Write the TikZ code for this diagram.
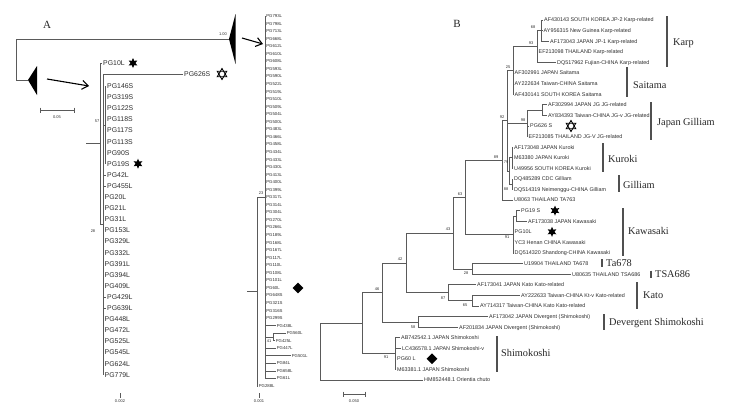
\documentclass[tikz,border=0pt]{standalone}
\usepackage{fontspec}
\setmainfont{Liberation Serif}
\newfontfamily\lsans{Liberation Sans}
\usetikzlibrary{shapes.geometric,arrows.meta}
\definecolor{txt}{HTML}{2E2E2E}
\definecolor{ln}{HTML}{5A5A5A}
\definecolor{cbarc}{HTML}{505050}
\begin{document}
\begin{tikzpicture}[x=1pt,y=-1pt,
  br/.style={draw=ln, line width=0.6pt},
  bleaf/.style={anchor=west, inner xsep=1pt, inner ysep=0pt, font=\lsans\fontsize{5.4}{6}\selectfont, text=txt, text height=3.9pt, text depth=0pt},
  aleaf/.style={anchor=west, inner xsep=1pt, inner ysep=0pt, font=\lsans\fontsize{6.9}{8}\selectfont, text=txt, text height=5pt, text depth=0pt},
  mleaf/.style={anchor=west, inner xsep=0.6pt, inner ysep=0pt, font=\lsans\fontsize{4.3}{5}\selectfont, text=txt, text height=3.1pt, text depth=0pt},
  bs/.style={inner sep=0pt, font=\lsans\fontsize{4}{4.5}\selectfont, text=txt},
  clade/.style={anchor=west, inner sep=0pt, font=\fontsize{10.3}{12}\selectfont, text=black!85, text height=7pt, text depth=0pt},
  cbar/.style={draw=cbarc, line width=1.6pt},
  star6/.style={star, star points=6, star point ratio=2, fill=black, minimum size=10pt, inner sep=0pt},
  tri/.style={regular polygon, regular polygon sides=3, draw=black, line width=0.9pt, minimum size=11pt, inner sep=0pt},
  dmd/.style={diamond, fill=black, minimum width=11pt, minimum height=11pt, inner sep=0pt},
  bigarrow/.style={draw=black, line width=1.1pt, -{Straight Barb[length=6pt,width=9pt]}},
  panel/.style={inner sep=0pt, font=\fontsize{11}{12}\selectfont, text=black!85},
]
\useasboundingbox[fill=white] (0,0) rectangle (734,408);

% ---------------- Panel A ----------------
\node[panel] (lblA) at (47,25) {A};
\node[panel] (lblB) at (457,24) {B};

\coordinate (aR) at (16,59.5);
\coordinate (aT) at (229,39);
\coordinate (aL) at (28,80);
\draw[br] (aR) |- (aT);
\draw[br] (aR) |- (aL);
\fill[black] (aT) -- (235.5,14) -- (235.5,64) -- cycle;
\fill[black] (aL) -- (37,66) -- (37,95) -- cycle;
\node[bs] (t100) at (223,34) {1.00};

\coordinate (p1) at (47,79); \coordinate (p2) at (89,86);
\draw[bigarrow] (p1) -- (p2);
\coordinate (q1) at (242,38); \coordinate (q2) at (263,44);
\draw[bigarrow] (q1) -- (q2);

% scale 0.05
\coordinate (s1) at (40,110); \coordinate (s2) at (74,110);
\draw[br] (s1) -- (s2);
\draw[br] (40,107.5) -- (40,112.5);
\draw[br] (74,107.5) -- (74,112.5);
\node[bs] (s005) at (57,117) {0.05};

% expanded subtree
\coordinate (aS) at (86,143.65);
\coordinate (aN1) at (100,143.65);
\coordinate (aX) at (103,224.3);
\coordinate (a57) at (105,124.85);
\draw[br] (aS) -- (aN1);
\draw[br] (aN1) |- (aX);
\draw[br] (aX) |- (a57);
\node[aleaf] (a10) at (102,63) {PG10L};
\draw[br] (aN1) |- (a10.west);
\node[aleaf] (a626) at (183,74) {PG626S};
\draw[br] (aX) |- (a626.west);
\foreach \i/\p/\bx/\lab in {0/a57/106/PG146S,1/a57/106/PG319S,2/a57/106/PG122S,3/a57/106/PG118S,4/a57/106/PG117S,5/a57/106/PG113S,6/a57/106/PG90S,7/a57/106/PG19S,8/aX/106/PG42L,9/aX/106/PG455L,10/aX/103.5/PG20L,11/aX/103.5/PG21L,12/aX/103.5/PG31L,13/aX/103.5/PG153L,14/aX/103.5/PG329L,15/aX/103.5/PG332L,16/aX/103.5/PG391L,17/aX/103.5/PG394L,18/aX/103.5/PG409L,19/aX/106/PG429L,20/aX/106/PG639L,21/aX/103.5/PG448L,22/aX/103.5/PG472L,23/aX/103.5/PG525L,24/aX/103.5/PG545L,25/aX/103.5/PG624L,26/aX/103.5/PG779L}{
  \pgfmathsetmacro\yy{86+\i*11.1}
  \node[aleaf] (al\i) at (\bx,\yy) {\lab};
  \draw[br] (\p) |- (al\i.west);
}
\node[bs] (b57) at (97,121) {57};
\node[bs] (b28a) at (93,231) {28};
\node[star6] (stA1) at (133,63) {};
\node[star6] (stA2) at (138,163.7) {};
\node[tri] (dvA1) at (222,74) {};
\node[tri, shape border rotate=180] (dvA2) at (222,74) {};
\draw[br] (120,393) -- (120,397.5);
\node[bs] (s0002) at (120,401) {0.002};

% middle column
\coordinate (mS) at (247,291.6);
\coordinate (mA) at (257,291.6);
\coordinate (mB) at (265,197.2);
\coordinate (mC) at (273,336.9);
\draw[br] (mS) -- (mA);
\draw[br] (mA) |- (mB);
\draw[br] (mB) |- (mC);
\foreach \j/\p/\bx/\lab in {1/mB/265.5/PG793L,2/mB/265.5/PG798L,3/mB/265.5/PG713L,4/mB/265.5/PG668L,5/mB/265.5/PG612L,6/mB/265.5/PG610L,7/mB/265.5/PG608L,8/mB/265.5/PG593L,9/mB/265.5/PG590L,10/mB/265.5/PG522L,11/mB/265.5/PG519L,12/mB/265.5/PG510L,13/mB/265.5/PG509L,14/mB/265.5/PG504L,15/mB/265.5/PG500L,16/mB/265.5/PG483L,17/mB/265.5/PG466L,18/mB/265.5/PG458L,19/mB/265.5/PG434L,20/mB/265.5/PG433L,21/mB/265.5/PG430L,22/mB/265.5/PG413L,23/mB/265.5/PG400L,24/mB/265.5/PG399L,25/mB/265.5/PG317L,26/mB/265.5/PG314L,27/mB/265.5/PG304L,28/mB/265.5/PG270L,29/mB/265.5/PG266L,30/mB/265.5/PG189L,31/mB/265.5/PG168L,32/mB/265.5/PG167L,33/mB/265.5/PG117L,34/mB/265.5/PG110L,35/mB/265.5/PG108L,36/mB/265.5/PG101L,37/mB/265.5/PG60L,38/mB/265.5/PG648S,39/mB/265.5/PG321S,40/mB/265.5/PG316S,41/mB/265.5/PG299S,42/mB/276/PG438L,43/mC/286/PG560L,44/mC/275/PG425L,45/mB/276/PG447L,46/mB/291/PG501L,47/mB/276/PG84L,48/mB/276/PG658L,49/mB/276/PG61L,50/mA/258/PG288L}{
  \pgfmathsetmacro\yy{16+(\j-1)*7.55}
  \node[mleaf] (ml\j) at (\bx,\yy) {\lab};
  \draw[br] (\p) |- (ml\j.west);
}
\node[bs] (b23) at (261,193) {23};
\node[bs] (b41) at (269,341) {41};
\node[dmd] (dmA) at (298,288) {};
\draw[br] (259,393) -- (259,397.5);
\node[bs] (s0001) at (259,401) {0.001};

% ---------------- Panel B ----------------
\coordinate (n68) at (541,30.59);
\coordinate (n93) at (537,46.47);
\coordinate (n25) at (513,70.3);
\coordinate (nJGs) at (542,110.0);
\coordinate (n98) at (527,123.25);
\coordinate (n79) at (512,157.65);
\coordinate (n88) at (512,184.1);
\coordinate (nKG) at (509.5,170.9);
\coordinate (n92) at (507,120.6);
\coordinate (n89) at (502,160.3);
\coordinate (nKs) at (516,215.9);
\coordinate (nK) at (513,234.4);
\coordinate (n63) at (465,197.35);
\coordinate (nTA) at (472,268.8);
\coordinate (n43) at (453,233.1);
\coordinate (n65) at (472,300.6);
\coordinate (n87) at (448,292.65);
\coordinate (n42) at (406,262.9);
\coordinate (nDiv) at (418,321.8);
\coordinate (n46) at (382,292.35);
\coordinate (nShi) at (395,353.5);
\coordinate (nIn) at (362,322.9);
\coordinate (root) at (320,351.45);

\draw[br] (n93) |- (n68);
\draw[br] (n25) |- (n93);
\draw[br] (n92) |- (n25);
\draw[br] (n92) |- (n98);
\draw[br] (n92) |- (nKG);
\draw[br] (n98) |- (nJGs);
\draw[br] (nKG) |- (n79);
\draw[br] (nKG) |- (n88);
\draw[br] (n89) |- (n92);
\draw[br] (n63) |- (n89);
\draw[br] (n63) |- (nK);
\draw[br] (nK) |- (nKs);
\draw[br] (n43) |- (n63);
\draw[br] (n43) |- (nTA);
\draw[br] (n42) |- (n43);
\draw[br] (n42) |- (n87);
\draw[br] (n87) |- (n65);
\draw[br] (n46) |- (n42);
\draw[br] (n46) |- (nDiv);
\draw[br] (nIn) |- (n46);
\draw[br] (nIn) |- (nShi);
\draw[br] (root) |- (nIn);

\foreach \i/\p/\bx/\lab in {
 1/n68/543/{AF430143 SOUTH KOREA JP-2 Karp-related},
 2/n68/542.5/{AY956315 New Guinea Karp-related},
 3/n68/549/{AF173043 JAPAN JP-1 Karp-related},
 4/n93/537.5/{EF213098 THAILAND Karp-related},
 5/n93/556/{DQ517962 Fujian-CHINA Karp-related},
 6/n25/513.5/{AF302991 JAPAN Saitama},
 7/n25/513.5/{AY222634 Taiwan-CHINA Saitama},
 8/n25/513.5/{AF430141 SOUTH KOREA Saitama},
 9/nJGs/547/{AF302994 JAPAN JG JG-related},
 10/nJGs/547/{AY834393 Taiwan-CHINA JG-v JG-related},
 11/n98/529/{PG626 S},
 12/n98/527.5/{EF213085 THAILAND JG-V JG-related},
 13/n79/513/{AF173048 JAPAN Kuroki},
 14/n79/513/{M63380 JAPAN Kuroki},
 15/n79/513/{U49956 SOUTH KOREA Kuroki},
 16/n88/513/{DQ485289 CDC Gilliam},
 17/n88/513/{DQ514319 Neimenggu-CHINA Gilliam},
 18/n89/513/{U8063 THAILAND TA763},
 19/nKs/520/{PG19 S},
 20/nKs/527/{AF173038 JAPAN Kawasaki},
 21/nK/513.5/{PG10L},
 22/nK/513.5/{YC3 Henan CHINA Kawasaki},
 23/nK/513.5/{DQ514320 Shandong-CHINA Kawasaki},
 24/nTA/523/{U19904 THAILAND TA678},
 25/nTA/571/{U80635 THAILAND TSA686},
 26/n87/476/{AF173041 JAPAN Kato Kato-related},
 27/n65/520/{AY222633 Taiwan-CHINA Kt-v Kato-related},
 28/n65/479/{AY714317 Taiwan-CHINA Kato Kato-related},
 29/nDiv/488/{AF173042 JAPAN Divergent (Shimokoshi)},
 30/nDiv/458/{AF201834 JAPAN Divergent (Shimokoshi)},
 31/nShi/400/{AB742542.1 JAPAN Shimokoshi},
 32/nShi/401/{LC436578.1 JAPAN Shimokoshi-v},
 33/nShi/396/{PG60 L},
 34/nShi/396/{M63381.1 JAPAN Shimokoshi},
 35/root/423/{HM852448.1 Orientia chuto}}{
  \pgfmathsetmacro\yy{20+(\i-1)*10.588}
  \node[bleaf] (bl\i) at (\bx,\yy) {\lab};
  \draw[br] (\p) |- (bl\i.west);
}

% bootstrap values B
\node[bs] (v68) at (533,27.5) {68};
\node[bs] (v93) at (531,43) {93};
\node[bs] (v25) at (508,67) {25};
\node[bs] (v92) at (502,117) {92};
\node[bs] (v98) at (523,120) {98};
\node[bs] (v89) at (496,157) {89};
\node[bs] (v79) at (506,162) {79};
\node[bs] (v88) at (506,189) {88};
\node[bs] (v63) at (460,194) {63};
\node[bs] (v91a) at (507,237) {91};
\node[bs] (v43) at (448,229.5) {43};
\node[bs] (v28) at (466,273) {28};
\node[bs] (v87) at (443,298) {87};
\node[bs] (v65) at (465,305) {65};
\node[bs] (v42) at (400,259) {42};
\node[bs] (v58) at (413,327) {58};
\node[bs] (v46) at (377,289) {46};
\node[bs] (v91b) at (386,357) {91};

% symbols B
\node[tri] (dvB1) at (571,126) {};
\node[tri, shape border rotate=180] (dvB2) at (571,126) {};
\node[star6] (stB1) at (555,210.6) {};
\node[star6] (stB2) at (552,231.8) {};
\node[dmd] (dmB) at (432,358.8) {};

% clade bars and labels
\draw[cbar] (667,16) -- (667,67);   \node[clade] (cKarp) at (673,42) {Karp};
\draw[cbar] (627,67) -- (627,97);   \node[clade] (cSai) at (633,85) {Saitama};
\draw[cbar] (651,102) -- (651,140); \node[clade] (cJG) at (657,122) {Japan Gilliam};
\draw[cbar] (603,143) -- (603,172); \node[clade] (cKur) at (608,159) {Kuroki};
\draw[cbar] (619,175) -- (619,192); \node[clade] (cGil) at (623,185) {Gilliam};
\draw[cbar] (623,208) -- (623,256); \node[clade] (cKaw) at (628,231) {Kawasaki};
\draw[cbar] (602,259) -- (602,267); \node[clade] (cTa) at (606,263) {Ta678};
\draw[cbar] (651,270.5) -- (651,278); \node[clade] (cTSA) at (655,274) {TSA686};
\draw[cbar] (637,282) -- (637,309); \node[clade] (cKato) at (643,295) {Kato};
\draw[cbar] (604,314) -- (604,330); \node[clade] (cDev) at (609,322) {Devergent Shimokoshi};
\draw[cbar] (497,336) -- (497,372); \node[clade] (cShi) at (501,353) {Shimokoshi};

% scale B
\coordinate (sb1) at (343,394); \coordinate (sb2) at (365,394);
\draw[br] (sb1) -- (sb2);
\draw[br] (343,391.5) -- (343,396.5);
\draw[br] (365,391.5) -- (365,396.5);
\node[bs] (s005b) at (354,401) {0.050};
\end{tikzpicture}
\end{document}
